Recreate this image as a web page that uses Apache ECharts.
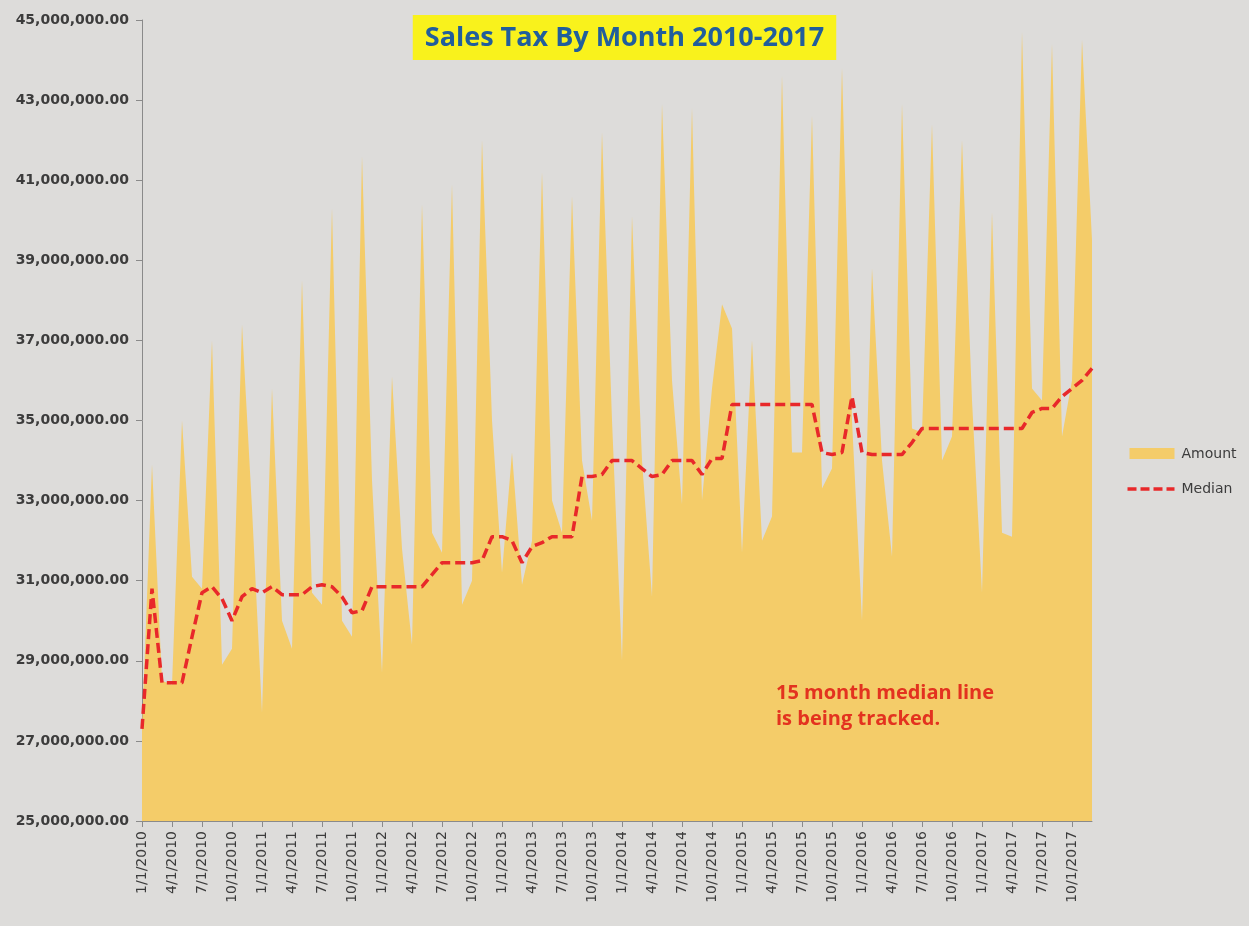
<!DOCTYPE html>
<html>
<head>
<meta charset="utf-8">
<script src="https://cdn.jsdelivr.net/npm/echarts@6/dist/echarts.min.js"></script>
<style>
html,body{margin:0;padding:0;background:#dddcda;}
#chart{width:1249px;height:926px;}
</style>
</head>
<body>
<div id="chart"></div>
<script>
// Monthly categories 1/1/2010 .. 12/1/2017
var years = [2010, 2011, 2012, 2013, 2014, 2015, 2016, 2017];
var months = [1,2,3,4,5,6,7,8,9,10,11,12];
var categories = [];
years.forEach(function (y) { months.forEach(function (m) { categories.push(m + '/1/' + y); }); });

// Sales tax amount, millions
var amountM = [
  27.3, 33.9, 28.5, 28.4, 35.0, 31.1, 30.8, 37.0, 28.9, 29.3, 37.4, 32.8,
  27.7, 35.8, 30.0, 29.3, 38.5, 30.7, 30.4, 40.3, 30.0, 29.6, 41.6, 33.5,
  28.7, 36.1, 31.8, 29.4, 40.4, 32.2, 31.7, 40.9, 30.4, 31.0, 42.0, 35.0,
  31.2, 34.2, 30.9, 32.0, 41.2, 33.0, 32.2, 40.6, 34.0, 32.5, 42.2, 35.0,
  29.0, 40.1, 34.0, 30.6, 42.9, 36.0, 32.9, 42.8, 33.0, 35.8, 37.9, 37.3,
  31.7, 37.0, 32.0, 32.6, 43.6, 34.2, 34.2, 42.6, 33.3, 33.8, 43.8, 35.0,
  30.0, 38.8, 34.0, 31.6, 42.9, 34.8, 34.7, 42.4, 34.0, 34.6, 42.0, 35.5,
  30.7, 40.2, 32.2, 32.1, 44.7, 35.8, 35.5, 44.4, 34.6, 36.0, 44.5, 39.5
];

// 15 month median, millions
var medianM = [
  27.3, 30.8, 28.45, 28.45, 28.45, 29.6, 30.7, 30.85, 30.55, 30.0, 30.6, 30.8,
  30.7, 30.85, 30.65, 30.65, 30.65, 30.85, 30.9, 30.85, 30.6, 30.2, 30.25, 30.85,
  30.85, 30.85, 30.85, 30.85, 30.85, 31.15, 31.45, 31.45, 31.45, 31.45, 31.5, 32.1,
  32.1, 32.0, 31.45, 31.85, 31.95, 32.1, 32.1, 32.1, 33.6, 33.6, 33.65, 34.0,
  34.0, 34.0, 33.8, 33.6, 33.65, 34.0, 34.0, 34.0, 33.65, 34.05, 34.05, 35.4,
  35.4, 35.4, 35.4, 35.4, 35.4, 35.4, 35.4, 35.4, 34.2, 34.15, 34.2, 35.6,
  34.2, 34.15, 34.15, 34.15, 34.15, 34.45, 34.8, 34.8, 34.8, 34.8, 34.8, 34.8,
  34.8, 34.8, 34.8, 34.8, 34.8, 35.2, 35.3, 35.3, 35.6, 35.8, 36.0, 36.3
];

var yMin = 25, yMax = 45, yStep = 2;
var titleText = 'Sales Tax By Month 2010-2017';
var noteLines = ['15 month median line', 'is being tracked.'];
var legendNames = ['Amount', 'Median'];

function fmtMoney(vM) {
  var n = Math.round(vM * 1000000);
  return n.toString().replace(/\B(?=(\d{3})+(?!\d))/g, ',') + '.00';
}

var amountColor = '#f4cc69';
var medianColor = '#e8282a';
var textColor = '#3c3c3c';

var chart = echarts.init(document.getElementById('chart'), null, {renderer: 'canvas'});
chart.setOption({
  backgroundColor: '#dddcda',
  animation: false,
  title: {
    text: titleText,
    left: 'center',
    top: 15,
    backgroundColor: '#f9f21c',
    padding: [10, 12, 8, 12],
    textStyle: {
      fontFamily: 'Open Sans',
      fontWeight: 'bold',
      fontSize: 27,
      color: '#215e9c'
    }
  },
  grid: { left: 142, right: 157, top: 20, bottom: 105, containLabel: false },
  xAxis: {
    type: 'category',
    data: categories,
    boundaryGap: false,
    axisLine: { lineStyle: { color: '#8a8a8a', width: 1 } },
    axisTick: { show: true, interval: 2, length: 6, lineStyle: { color: '#8a8a8a' } },
    axisLabel: {
      interval: 2,
      rotate: 90,
      margin: 10,
      fontFamily: 'DejaVu Sans',
      fontSize: 14,
      color: textColor
    },
    splitLine: { show: false }
  },
  yAxis: {
    type: 'value',
    min: yMin,
    max: yMax,
    interval: yStep,
    axisLine: { show: true, lineStyle: { color: '#8a8a8a', width: 1 } },
    axisTick: { show: true, length: 6, lineStyle: { color: '#8a8a8a' } },
    axisLabel: {
      margin: 13,
      fontFamily: 'DejaVu Sans',
      fontWeight: 'bold',
      fontSize: 14,
      color: textColor,
      formatter: fmtMoney
    },
    splitLine: { show: false }
  },
  series: [
    {
      name: legendNames[0],
      type: 'line',
      data: amountM,
      showSymbol: false,
      symbol: 'none',
      lineStyle: { width: 0, color: amountColor },
      itemStyle: { color: amountColor },
      areaStyle: { color: amountColor, opacity: 1, origin: 'start' },
      z: 1
    },
    {
      name: legendNames[1],
      type: 'line',
      data: medianM,
      showSymbol: false,
      symbol: 'none',
      lineStyle: { width: 3.5, color: medianColor, type: [10, 5] },
      itemStyle: { color: medianColor },
      z: 3
    }
  ],
  graphic: [
    {
      type: 'text',
      left: 776,
      top: 680,
      style: {
        text: noteLines.join('\n'),
        fill: '#e3321f',
        font: 'bold 20px "Open Sans"',
        lineHeight: 26
      },
      z: 10
    },
    {
      type: 'group',
      left: 1125,
      top: 447,
      children: [
        { type: 'rect', shape: { x: 2, y: 1, width: 45, height: 11 }, style: { fill: amountColor } },
        { type: 'text', style: { x: 54, y: 7, text: legendNames[0], font: '14px "DejaVu Sans"', fill: textColor, verticalAlign: 'middle' } },
        { type: 'line', shape: { x1: 0, y1: 42, x2: 47, y2: 42 }, style: { stroke: medianColor, lineWidth: 3.5, lineDash: [9, 4] } },
        { type: 'text', style: { x: 54, y: 42, text: legendNames[1], font: '14px "DejaVu Sans"', fill: textColor, verticalAlign: 'middle' } }
      ],
      z: 10
    }
  ]
});
</script>
</body>
</html>
